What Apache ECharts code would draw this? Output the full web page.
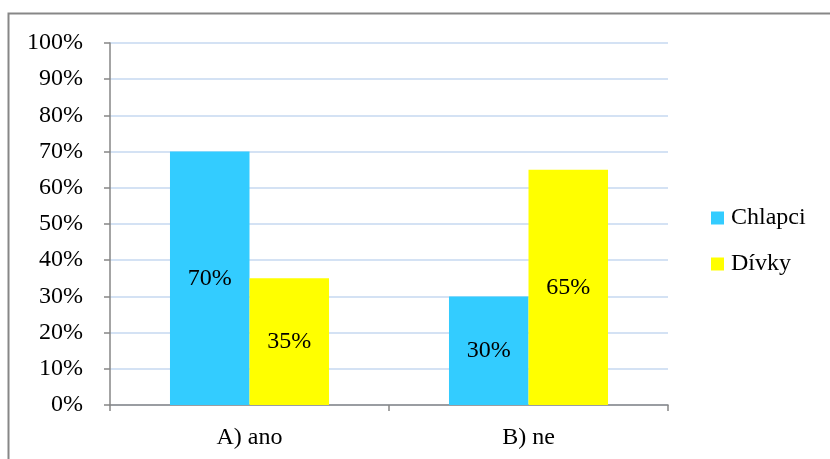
<!DOCTYPE html>
<html>
<head>
<meta charset="utf-8">
<script src="https://cdn.jsdelivr.net/npm/echarts@6/dist/echarts.min.js"></script>
<style>
  html, body { margin: 0; padding: 0; background: #fff; }
  #chart { width: 830px; height: 459px; }
</style>
</head>
<body>
<div id="chart"></div>
<script>
// Answers by group, in percent
const categories = ['A) ano', 'B) ne'];
const chlapci = [70, 30];
const divky = [35, 65];
const seriesNames = ['Chlapci', 'Dívky'];

const FONT = '"Liberation Serif", "Times New Roman", serif';

const chart = echarts.init(document.getElementById('chart'), null, { renderer: 'canvas' });

const labelStyle = {
  show: true,
  position: 'inside',
  formatter: p => p.value + '%',
  color: '#000',
  fontFamily: FONT,
  fontSize: 24
};

chart.setOption({
  animation: false,
  backgroundColor: '#fff',
  graphic: [{
    type: 'rect',
    shape: { x: 8.5, y: 13.5, width: 840, height: 470 },
    style: { fill: 'none', stroke: '#878787', lineWidth: 2 },
    silent: true
  }],
  grid: { left: 110, top: 43, width: 558, height: 362, containLabel: false },
  legend: {
    orient: 'vertical',
    left: 711,
    top: 206,
    padding: 0,
    itemWidth: 13,
    itemHeight: 13,
    itemGap: 22,
    icon: 'rect',
    textStyle: { fontFamily: FONT, fontSize: 24, color: '#000', padding: [0, 0, 0, 2] },
    data: seriesNames
  },
  xAxis: {
    type: 'category',
    data: categories,
    axisLine: { lineStyle: { color: '#868686', width: 1.5 } },
    axisTick: { show: true, length: 6, alignWithLabel: false, lineStyle: { color: '#868686', width: 1.5 } },
    axisLabel: { fontFamily: FONT, fontSize: 24, color: '#000', margin: 21 },
    splitLine: { show: false }
  },
  yAxis: {
    type: 'value',
    min: 0,
    max: 100,
    interval: 10,
    axisLine: { show: true, lineStyle: { color: '#868686', width: 1.5 } },
    axisTick: { show: true, length: 6, lineStyle: { color: '#868686', width: 1.5 } },
    axisLabel: { fontFamily: FONT, fontSize: 24, color: '#000', margin: 27, formatter: v => v + '%' },
    splitLine: { show: true, lineStyle: { color: '#c6d9f1', width: 1.5 } }
  },
  series: [
    {
      name: seriesNames[0],
      type: 'bar',
      data: chlapci,
      barCategoryGap: '43%',
      barGap: '0%',
      itemStyle: { color: '#33ccff' },
      label: labelStyle
    },
    {
      name: seriesNames[1],
      type: 'bar',
      data: divky,
      barCategoryGap: '43%',
      barGap: '0%',
      itemStyle: { color: '#ffff00' },
      label: labelStyle
    }
  ]
});
</script>
</body>
</html>
